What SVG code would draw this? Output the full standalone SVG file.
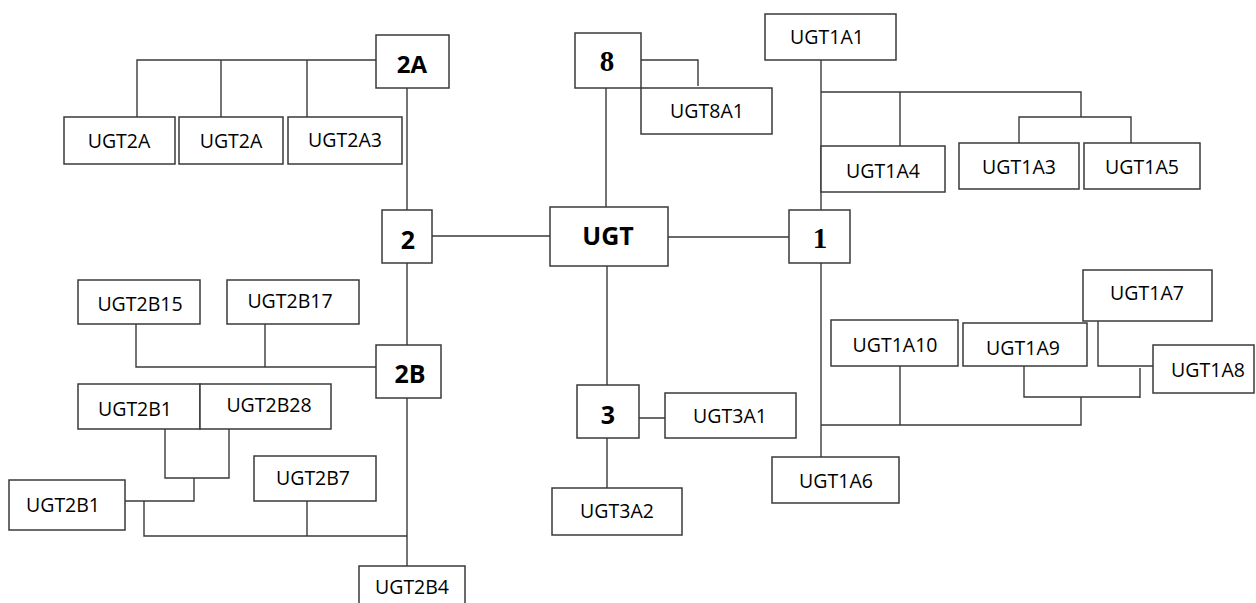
<svg xmlns="http://www.w3.org/2000/svg" width="1256" height="603" viewBox="0 0 1256 603">
<style>
.c{fill:none;stroke:#3a3a3a;stroke-width:1.4}
.b{fill:#fff;stroke:#3a3a3a;stroke-width:1.5}
.t{font-family:"Open Sans","Noto Sans",sans-serif;font-size:19.5px;fill:#000;text-anchor:middle}
.h{font-family:"Open Sans","Noto Sans",sans-serif;font-size:25px;font-weight:bold;fill:#000;text-anchor:middle}
.s{font-family:"Liberation Serif","Times New Roman",serif;font-size:29px;font-weight:bold;fill:#000;text-anchor:middle}
</style>
<rect width="1256" height="603" fill="#fff"/>
<g id="connectors">
<path class="c" d="M407 88V210M407 263V345M407 398V566"/>
<path class="c" d="M376 60H137V117M221 60V117M307 60V117"/>
<path class="c" d="M432 236H550M668 237H789M606 88V207M607 266V385M821 60V210M821 263V457"/>
<path class="c" d="M638 60H698V86"/>
<path class="c" d="M821 92H1081V117M900 92V150M1019 143V117H1131V143"/>
<path class="c" d="M136 324V367H377M265 324V367"/>
<path class="c" d="M165 429V478H229V429M194 478V501H123M144 501V536H407M307 501V536"/>
<path class="c" d="M639 418H668M607 438V488"/>
<path class="c" d="M821 425H1081V397M900 366V425M1024 366V397H1140M1140 368V398M1098 318V366H1153"/>
</g>
<g id="n2A"><rect class="b" x="376" y="35" width="73" height="53"/><text class="h" x="412" y="73" style="font-size:24px">2A</text></g>
<g id="nUGT2A_1"><rect class="b" x="64" y="117" width="111" height="47"/><text class="t" x="119" y="148">UGT2A</text></g>
<g id="nUGT2A_2"><rect class="b" x="179" y="117" width="104" height="47"/><text class="t" x="231" y="148">UGT2A</text></g>
<g id="nUGT2A3"><rect class="b" x="288" y="117" width="114" height="47"/><text class="t" x="345" y="147">UGT2A3</text></g>
<g id="n8"><rect class="b" x="575" y="33" width="66" height="55"/><text class="s" x="607" y="71">8</text></g>
<g id="nUGT8A1"><rect class="b" x="641" y="88" width="131" height="46"/><text class="t" x="707" y="118">UGT8A1</text></g>
<g id="nUGT1A1"><rect class="b" x="765" y="14" width="131" height="46"/><text class="t" x="827" y="44">UGT1A1</text></g>
<g id="nUGT1A4"><rect class="b" x="821" y="146" width="124" height="46"/><text class="t" x="883" y="178">UGT1A4</text></g>
<g id="nUGT1A3"><rect class="b" x="959" y="143" width="120" height="46"/><text class="t" x="1019" y="174">UGT1A3</text></g>
<g id="nUGT1A5"><rect class="b" x="1084" y="143" width="116" height="46"/><text class="t" x="1142" y="174">UGT1A5</text></g>
<g id="n2"><rect class="b" x="382" y="210" width="50" height="53"/><text class="h" x="408" y="249">2</text></g>
<g id="nUGT"><rect class="b" x="550" y="207" width="118" height="59"/><text class="h" x="608" y="245">UGT</text></g>
<g id="n1"><rect class="b" x="789" y="210" width="61" height="53"/><text class="s" x="820" y="248">1</text></g>
<g id="nUGT2B15"><rect class="b" x="78" y="280" width="122" height="44"/><text class="t" x="140" y="311">UGT2B15</text></g>
<g id="nUGT2B17"><rect class="b" x="227" y="280" width="132" height="44"/><text class="t" x="290" y="308">UGT2B17</text></g>
<g id="n2B"><rect class="b" x="376" y="345" width="65" height="53"/><text class="h" x="410" y="383">2B</text></g>
<g id="nUGT2B1_a"><rect class="b" x="78" y="384" width="122" height="45"/><text class="t" x="135" y="416">UGT2B1</text></g>
<g id="nUGT2B28"><rect class="b" x="200" y="384" width="131" height="45"/><text class="t" x="269" y="412">UGT2B28</text></g>
<g id="nUGT2B1_b"><rect class="b" x="9" y="480" width="116" height="50"/><text class="t" x="63" y="512">UGT2B1</text></g>
<g id="nUGT2B7"><rect class="b" x="254" y="456" width="122" height="45"/><text class="t" x="313" y="485">UGT2B7</text></g>
<g id="nUGT2B4"><rect class="b" x="359" y="566" width="106" height="40"/><text class="t" x="412" y="594">UGT2B4</text></g>
<g id="n3"><rect class="b" x="577" y="385" width="62" height="53"/><text class="h" x="608" y="424">3</text></g>
<g id="nUGT3A1"><rect class="b" x="665" y="393" width="131" height="45"/><text class="t" x="730" y="423">UGT3A1</text></g>
<g id="nUGT3A2"><rect class="b" x="552" y="488" width="130" height="47"/><text class="t" x="617" y="518">UGT3A2</text></g>
<g id="nUGT1A7"><rect class="b" x="1083" y="270" width="129" height="51"/><text class="t" x="1147" y="300">UGT1A7</text></g>
<g id="nUGT1A10"><rect class="b" x="831" y="320" width="127" height="46"/><text class="t" x="895" y="352">UGT1A10</text></g>
<g id="nUGT1A9"><rect class="b" x="963" y="323" width="124" height="43"/><text class="t" x="1023" y="355">UGT1A9</text></g>
<g id="nUGT1A8"><rect class="b" x="1153" y="345" width="101" height="48"/><text class="t" x="1208" y="377">UGT1A8</text></g>
<g id="nUGT1A6"><rect class="b" x="772" y="457" width="127" height="46"/><text class="t" x="836" y="488">UGT1A6</text></g>
</svg>
